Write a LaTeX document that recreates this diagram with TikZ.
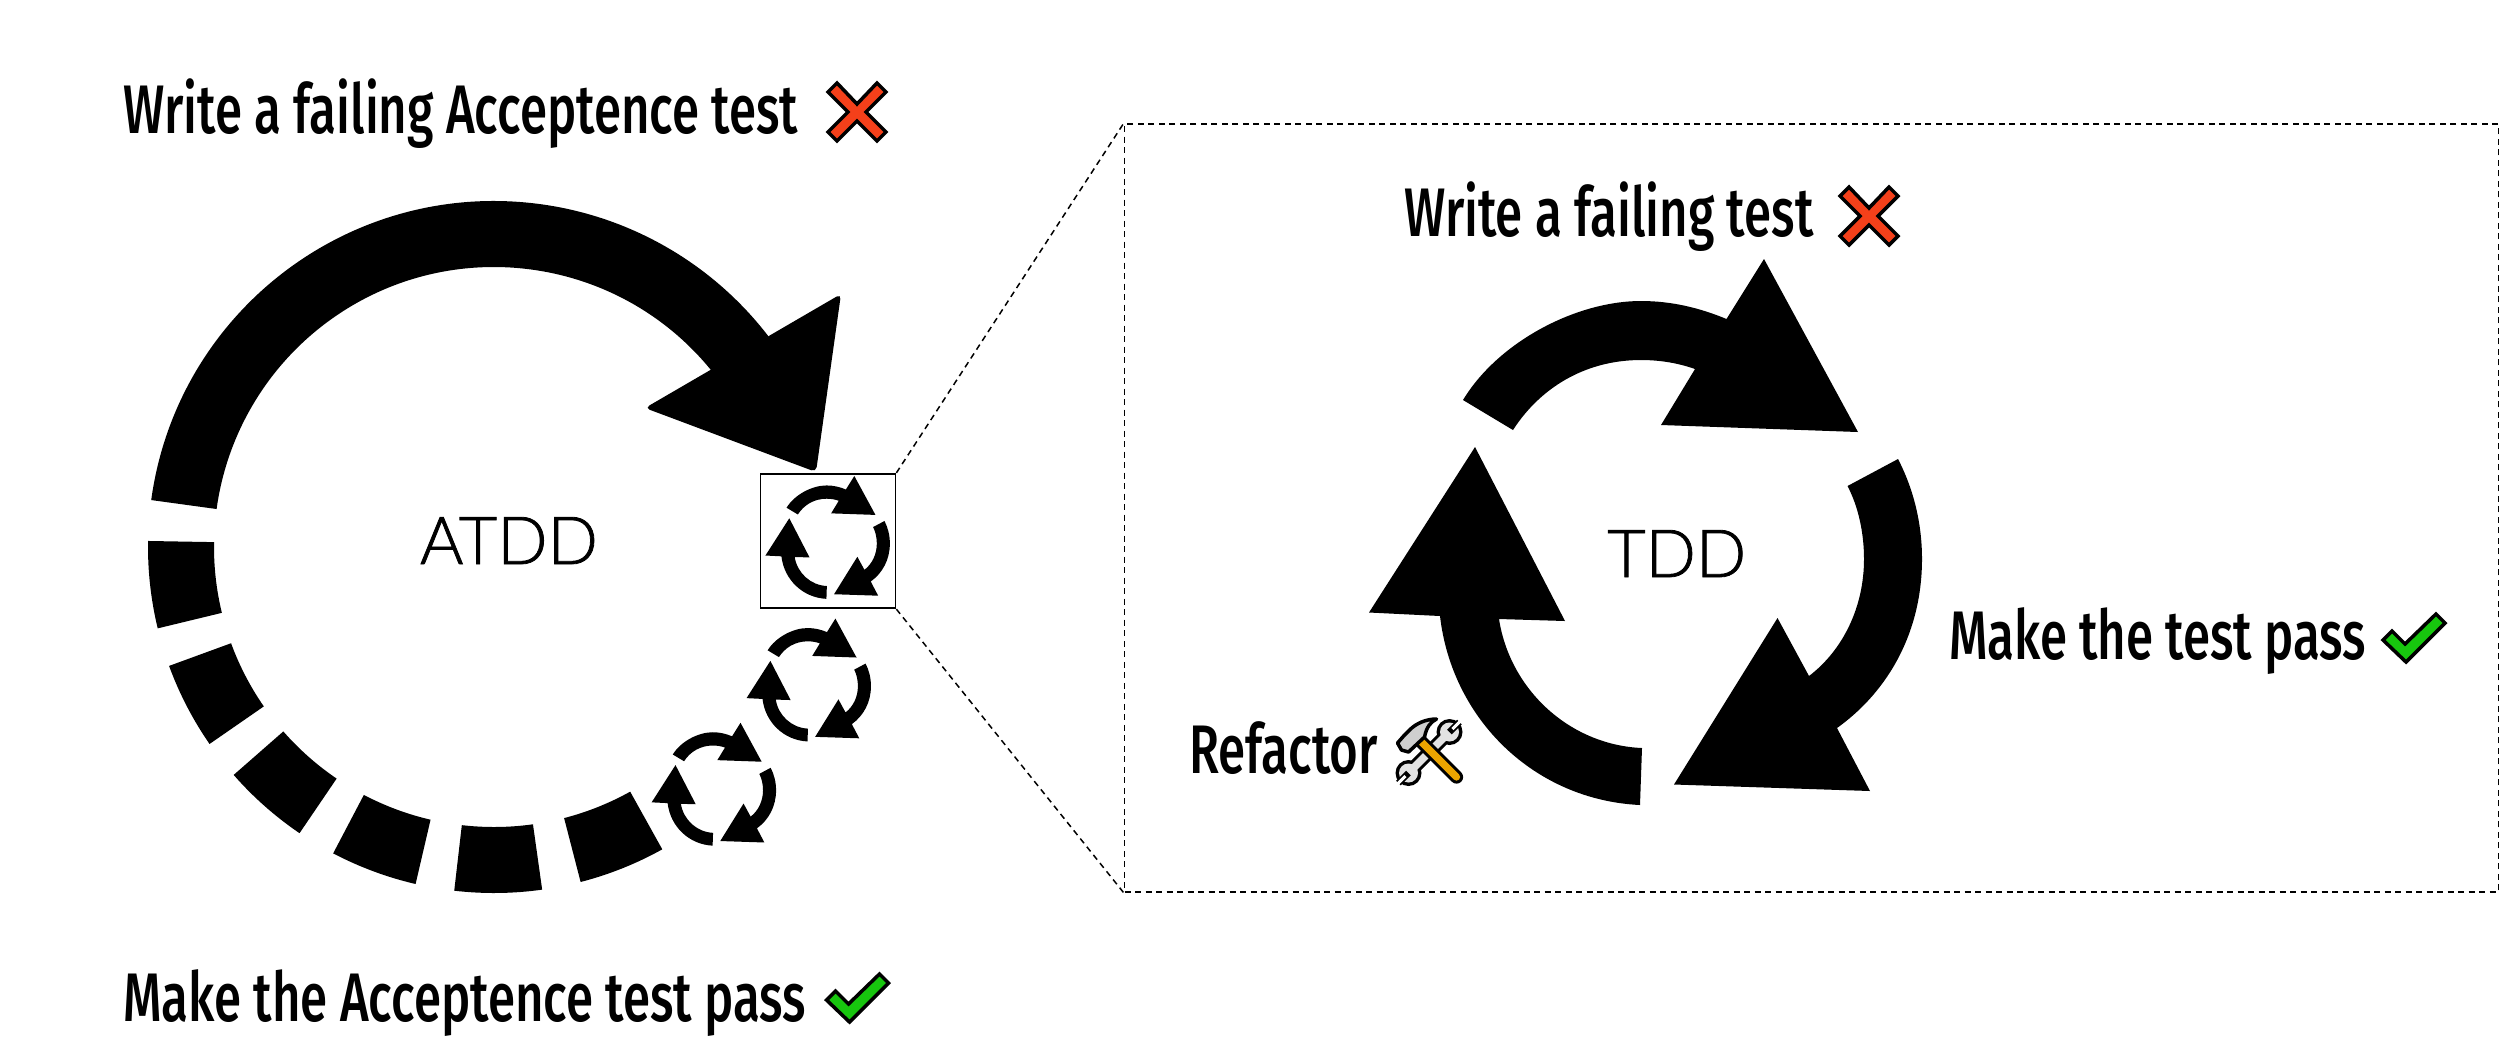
\documentclass[tikz,border=0pt]{standalone}
\usepackage{fontspec}
\usepackage{xcolor}
\usetikzlibrary{positioning,calc}
\newfontfamily\stepfont[FakeStretch=0.716]{Fira Sans Medium}
\newfontfamily\cyclefont[FakeBold=1.2]{Lato Light}
\definecolor{crossred}{HTML}{F4401A}
\definecolor{tickgreen}{HTML}{17C60E}
\definecolor{handleorange}{HTML}{EAA400}
\definecolor{steelgrey}{HTML}{E2E2E2}
\definecolor{headgrey}{HTML}{CFCFCF}

\newcommand{\tddloop}{
  \fill (1463,400) .. controls (1498,342) and (1576,301) .. (1641,301)
    .. controls (1672,301) and (1700,308) .. (1726.5,319)
    -- (1764,259) -- (1858,432) -- (1661,425) -- (1695,369)
    .. controls (1678,363) and (1660,360) .. (1641,360)
    .. controls (1585,360) and (1540,388) .. (1513,430) -- cycle;
  \fill (1898,459) .. controls (1913,488) and (1922,522) .. (1922,559)
    .. controls (1922,630) and (1890,690) .. (1837,728)
    -- (1870,791) -- (1674,784.5) -- (1777.5,618) -- (1809,676)
    .. controls (1843,650) and (1864,607) .. (1864,559)
    .. controls (1864,532) and (1858,506) .. (1847.5,486) -- cycle;
  \fill (1640,805) .. controls (1535,800) and (1452,720) .. (1440,616)
    -- (1369,612.5) -- (1475,447) -- (1565,621) -- (1499,619)
    .. controls (1510,690) and (1570,745) .. (1642,748) -- cycle;
}

\tikzset{
  pics/crossmark/.style={code={
    \draw[fill=crossred, line width=1.4pt, miter limit=4]
      (-29,-20) -- (-20,-29) -- (0,-8) -- (20,-29) -- (29,-20) -- (9,0)
      -- (29,20) -- (20,29) -- (0,9) -- (-20,29) -- (-29,20) -- (-9,0) -- cycle;
  }},
  pics/tickmark/.style={code={
    \draw[fill=tickgreen, line width=1.4pt, miter limit=4]
      (-31,2) -- (-22,-7) -- (-9,6) -- (22,-24) -- (31,-15) -- (-8,24) -- cycle;
  }},
  pics/toolsmark/.style={code={
    \draw[line width=5.4pt, line cap=round] (-22,22) -- (19,-19);
    \fill (-22,22) circle (13) (19,-19) circle (13);
    \draw[steelgrey, line width=3pt] (-22,22) -- (19,-19);
    \fill[steelgrey] (-22,22) circle (9.5) (19,-19) circle (9.5);
    \draw[line width=2.6pt] (-22,22) -- (-32,32) (19,-19) -- (29,-29);
    \draw[white, line width=1.2pt] (-25,25) -- (-33,33) (22,-22) -- (30,-30);
    \draw[line width=5.3pt, line cap=round] (-11,-11) -- (26,26);
    \draw[handleorange, line width=2.9pt, line cap=round] (-11,-11) -- (26,26);
    \draw[fill=headgrey, line width=1.4pt, line join=round]
      (-33,-8) -- (-26,-16) -- (-21,-21) .. controls (-14,-28) and (-4,-32) .. (6,-32)
      .. controls (0,-29) and (-4,-24) .. (-6,-14) -- (-22,1) -- (-29,-1) -- cycle;
  }}
}

\begin{document}
\begin{tikzpicture}[
  x=0.4pt, y=-0.4pt,
  steplabel/.style={anchor=base west, inner sep=0pt, font=\stepfont\fontsize{27.5}{30}\selectfont},
  cyclelabel/.style={anchor=base west, inner sep=0pt, font=\cyclefont\fontsize{26.5}{30}\selectfont},
  zoomsmall/.style={draw, line width=0.7pt, minimum width=54pt, minimum height=53.8pt, inner sep=0pt},
  zoombig/.style={draw, dashed, line width=0.7pt, dash pattern=on 2.4pt off 1.8pt, minimum width=549.6pt, minimum height=307pt, inner sep=0pt},
  zoomline/.style={dashed, line width=0.6pt, dash pattern=on 2.4pt off 1.8pt}
]
  \useasboundingbox (0,0) rectangle (2500,1056);

  \node[steplabel] (atdd_write) at (123,133) {Write a failing Acceptence test};
  \node[steplabel] (atdd_pass) at (123,1021) {Make the Acceptence test pass};
  \pic (atdd_cross) at (857,112) {crossmark};
  \pic (atdd_tick) at (857.5,998) {tickmark};

  \begin{scope}[shift={(494,547)}]
    \fill (-172.2:346) arc[start angle=-172.2, end angle=-37.5, radius=346]
      -- (-37.5:280) arc[start angle=-37.5, end angle=-172.2, radius=280] -- cycle;
    \foreach \segstart [evaluate=\segstart as \segend using \segstart+14.6] in {179,200.1,221.2,242.3,263.4,284.5} {
      \fill (-\segstart:346) arc[start angle=-\segstart, end angle=-\segend, radius=346]
        -- (-\segend:280) arc[start angle=-\segend, end angle=-\segstart, radius=280] -- cycle;
    }
  \end{scope}
  \fill[rounded corners=2pt] (841,294) -- (816,472) -- (645,408) -- cycle;
  \node[cyclelabel] (atdd_name) at (419.5,564) {ATDD};

  \begin{scope}[shift={(457.4,417.7)}, scale=0.225] \tddloop \end{scope}
  \begin{scope}[shift={(438.5,560.3)}, scale=0.225] \tddloop \end{scope}
  \begin{scope}[shift={(343.6,664.5)}, scale=0.225] \tddloop \end{scope}

  \node[zoomsmall] (small_box) at (828,541) {};
  \node[zoombig] (big_box) at (1811.5,508) {};
  \draw[zoomline] (small_box.north east) -- (big_box.north west);
  \draw[zoomline] (small_box.south east) -- (big_box.south west);

  \tddloop
  \node[cyclelabel] (tdd_name) at (1606.7,577) {TDD};

  \node[steplabel] (tdd_write) at (1403.6,236.5) {Write a failing test};
  \node[steplabel] (tdd_pass) at (1948.5,659.5) {Make the test pass};
  \node[steplabel] (tdd_refactor) at (1189,773) {Refactor};
  \pic (tdd_cross) at (1869,216) {crossmark};
  \pic (tdd_tick) at (2414,638) {tickmark};
  \pic (tdd_tools) at (1430.5,751) {toolsmark};
\end{tikzpicture}
\end{document}
